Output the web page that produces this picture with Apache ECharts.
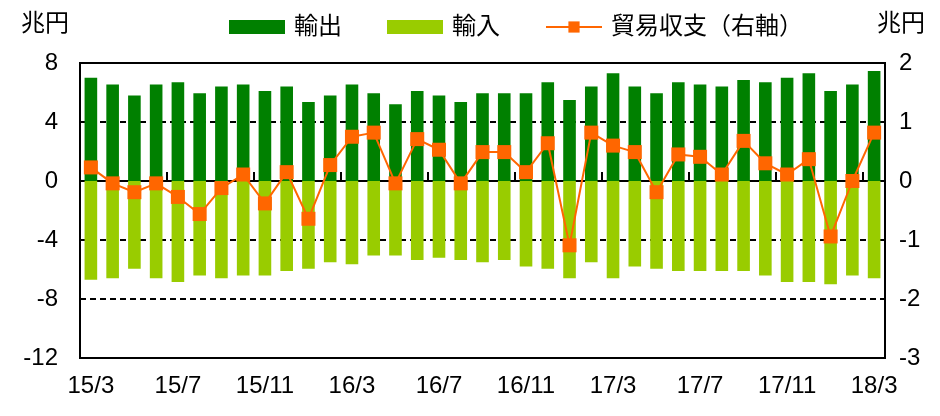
<!DOCTYPE html>
<html>
<head>
<meta charset="utf-8">
<script src="https://cdn.jsdelivr.net/npm/echarts@6/dist/echarts.min.js"></script>
<style>
  html, body { margin: 0; padding: 0; background: #fff; }
  #chart { width: 940px; height: 416px; }
</style>
</head>
<body>
<div id="chart"></div>
<script>
// 月（15/3 〜 18/3）
const months = [
  '15/3', '15/4', '15/5', '15/6', '15/7', '15/8', '15/9', '15/10', '15/11', '15/12',
  '16/1', '16/2', '16/3', '16/4', '16/5', '16/6', '16/7', '16/8', '16/9', '16/10', '16/11', '16/12',
  '17/1', '17/2', '17/3', '17/4', '17/5', '17/6', '17/7', '17/8', '17/9', '17/10', '17/11', '17/12',
  '18/1', '18/2', '18/3'
]

// 輸出（兆円）
const exportsData = [
  7.0, 6.55, 5.8, 6.55, 6.7, 5.95, 6.4, 6.55, 6.1, 6.4,
  5.35, 5.8, 6.55, 5.95, 5.2, 6.1, 5.8, 5.35, 5.95, 5.95, 5.95, 6.7,
  5.5, 6.4, 7.3, 6.4, 5.95, 6.7, 6.55, 6.4, 6.85, 6.7, 7.0, 7.3,
  6.1, 6.55, 7.45
]

// 輸入（兆円、マイナス表示）
const importsData = [
  -6.7, -6.6, -5.95, -6.6, -6.85, -6.4, -6.6, -6.4, -6.4, -6.1,
  -5.95, -5.5, -5.65, -5.05, -5.05, -5.35, -5.2, -5.35, -5.5, -5.35, -5.8, -5.95,
  -6.6, -5.5, -6.6, -5.8, -5.95, -6.1, -6.1, -6.1, -6.1, -6.4, -6.85, -6.85,
  -7.0, -6.4, -6.6
]

// 貿易収支（兆円、右軸）
const balanceData = [
  0.23, -0.04, -0.19, -0.04, -0.27, -0.56, -0.12, 0.11, -0.38, 0.15,
  -0.64, 0.27, 0.75, 0.82, -0.04, 0.71, 0.53, -0.04, 0.49, 0.49, 0.15, 0.64,
  -1.09, 0.82, 0.60, 0.49, -0.19, 0.45, 0.41, 0.11, 0.68, 0.30, 0.11, 0.37,
  -0.94, 0.0, 0.82
]

const FONT = '"Liberation Sans", "Noto Sans CJK JP", sans-serif'
const chart = echarts.init(document.getElementById('chart'))

const option = {
  animation: false,
  textStyle: { fontFamily: FONT, color: '#000' },
  legend: {
    left: 224,
    top: 10,
    itemWidth: 56,
    itemHeight: 14,
    itemGap: 45,
    textStyle: { fontSize: 24, color: '#000', fontFamily: FONT, padding: [0, 0, 0, 4] },
    data: [
      { name: '輸出', icon: 'rect' },
      { name: '輸入', icon: 'rect' },
      { name: '貿易収支（右軸）' }
    ]
  },
  graphic: [
    { type: 'text', left: 21, top: 12, style: { text: '兆円', font: '24px ' + FONT, fill: '#000' } },
    { type: 'text', left: 877, top: 12, style: { text: '兆円', font: '24px ' + FONT, fill: '#000' } }
  ],
  grid: {
    left: 80,
    right: 55,
    top: 63,
    bottom: 58,
    show: true,
    borderColor: '#000',
    borderWidth: 2
  },
  xAxis: [
    {
      type: 'category',
      data: months,
      position: 'bottom',
      axisLine: { onZero: false, lineStyle: { color: '#000', width: 2 } },
      axisTick: { show: false },
      axisLabel: { interval: 3, fontSize: 24, color: '#000', margin: 16 }
    },
    {
      type: 'category',
      data: months,
      position: 'bottom',
      axisLine: { onZero: true, lineStyle: { color: '#000', width: 2 } },
      axisTick: { show: true, inside: true, interval: 3, length: 9, lineStyle: { color: '#000', width: 2 } },
      axisLabel: { show: false }
    }
  ],
  yAxis: [
    {
      type: 'value',
      min: -12,
      max: 8,
      interval: 4,
      axisLine: { show: true, lineStyle: { color: '#000', width: 2 } },
      axisTick: { show: false },
      axisLabel: { fontSize: 24, color: '#000', margin: 22 },
      splitLine: { lineStyle: { color: '#000', type: [6, 4], width: 1.8 } }
    },
    {
      type: 'value',
      min: -3,
      max: 2,
      interval: 1,
      position: 'right',
      axisLine: { show: true, lineStyle: { color: '#000', width: 2 } },
      axisTick: { show: false },
      axisLabel: { fontSize: 24, color: '#000', margin: 14 },
      splitLine: { show: false }
    }
  ],
  series: [
    {
      name: '輸出',
      type: 'bar',
      data: exportsData,
      barWidth: '58%',
      barGap: '-100%',
      itemStyle: { color: '#008000' }
    },
    {
      name: '輸入',
      type: 'bar',
      data: importsData,
      barWidth: '58%',
      barGap: '-100%',
      itemStyle: { color: '#99cc00' }
    },
    {
      name: '貿易収支（右軸）',
      type: 'line',
      yAxisIndex: 1,
      data: balanceData,
      symbol: 'rect',
      symbolSize: 14,
      lineStyle: { color: '#ff6600', width: 2 },
      itemStyle: { color: '#ff6600' },
      z: 5
    }
  ]
}

chart.setOption(option)
</script>
</body>
</html>
